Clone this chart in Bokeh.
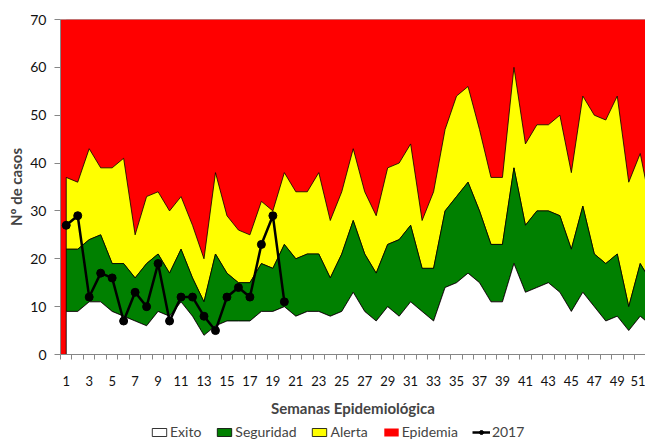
from bokeh.plotting import figure
from bokeh.layouts import column
from bokeh.models import Range1d, FixedTicker, Span, Legend, LegendItem
from bokeh.embed import file_html
from bokeh.resources import INLINE

weeks = list(range(1, 53))
exito = [9, 9, 11, 11, 9, 8, 7, 6, 9, 8,
         11, 8, 4, 6, 7, 7, 7, 9, 9, 10,
         8, 9, 9, 8, 9, 13, 9, 7, 10, 8,
         11, 9, 7, 14, 15, 17, 15, 11, 11, 19,
         13, 14, 15, 13, 9, 13, 10, 7, 8, 5,
         8, 6]
seguridad = [22, 22, 24, 25, 19, 19, 16, 19, 21, 17,
             22, 16, 11, 21, 17, 15, 15, 19, 18, 23,
             20, 21, 21, 16, 21, 28, 21, 17, 23, 24,
             27, 18, 18, 30, 33, 36, 30, 23, 23, 39,
             27, 30, 30, 29, 22, 31, 21, 19, 21, 10,
             19, 15]
alerta = [37, 36, 43, 39, 39, 41, 25, 33, 34, 30,
          33, 27, 20, 38, 29, 26, 25, 32, 30, 38,
          34, 34, 38, 28, 34, 43, 34, 29, 39, 40,
          44, 28, 34, 47, 54, 56, 47, 37, 37, 60,
          44, 48, 48, 50, 38, 54, 50, 49, 54, 36,
          42, 30]
epidemia_top = 70
weeks_2017 = list(range(1, 21))
casos_2017 = [27, 29, 12, 17, 16, 7, 13, 10, 19, 7,
              12, 12, 8, 5, 12, 14, 12, 23, 29, 11]
legend_labels = ["Exito", "Seguridad", "Alerta", "Epidemia", "2017"]

FONT = "Lato"
GRAY = "#868686"
C_EX, C_SEG, C_AL, C_EP = "white", "#008000", "#FFFF00", "#FF0000"


def band(lower, upper):
    xs = weeks + weeks[::-1]
    ys = list(upper) + list(lower)[::-1]
    return xs, ys


zeros = [0] * len(weeks)


def draw(fig):
    r_ep = fig.varea(x=weeks, y1=alerta, y2=[epidemia_top] * len(weeks),
                     fill_color=C_EP)
    xs, ys = band(seguridad, alerta)
    r_al = fig.patch(xs, ys, fill_color=C_AL, line_color="black", line_width=0.8)
    xs, ys = band(exito, seguridad)
    r_seg = fig.patch(xs, ys, fill_color=C_SEG, line_color="black", line_width=0.8)
    xs, ys = band(zeros, exito)
    r_ex = fig.patch(xs, ys, fill_color=C_EX, line_color="black", line_width=0.8)
    r_ln = fig.line(weeks_2017, casos_2017, line_color="black", line_width=2.5)
    r_pt = fig.scatter(weeks_2017, casos_2017, size=8, fill_color="black",
                       line_color="black")
    return [[r_ex], [r_seg], [r_al], [r_ep], [r_ln, r_pt]]


p = figure(frame_width=585, frame_height=335,
           x_range=Range1d(0.5, 51.46), y_range=Range1d(0, 70),
           output_backend="svg", toolbar_location=None,
           min_border_left=60, min_border_right=0, min_border_top=19,
           min_border_bottom=69,
           background_fill_color=C_EP, outline_line_color=None,
           border_fill_color="white")
p.grid.visible = False
draw(p)
p.add_layout(Span(location=70, dimension="width", line_color=GRAY, line_width=1))

# x axis
p.xaxis.ticker = FixedTicker(ticks=list(range(1, 52, 2)),
                             minor_ticks=[w - 0.5 for w in range(1, 54)])
p.xaxis.major_tick_out = 0
p.xaxis.major_tick_in = 0
p.xaxis.minor_tick_out = 5
p.xaxis.minor_tick_in = 0
p.xaxis.minor_tick_line_color = GRAY
p.xaxis.axis_line_color = GRAY
p.xaxis.major_label_standoff = 16
p.xaxis.major_label_text_font = FONT
p.xaxis.major_label_text_font_size = "13px"
p.xaxis.major_label_text_color = "#111111"
p.xaxis.axis_label = "Semanas Epidemiológica"
p.xaxis.axis_label_text_font = FONT
p.xaxis.axis_label_text_font_style = "bold"
p.xaxis.axis_label_text_font_size = "15px"
p.xaxis.axis_label_standoff = 10

# y axis
p.yaxis.ticker = FixedTicker(ticks=list(range(0, 71, 10)), minor_ticks=[])
p.yaxis.major_tick_out = 6
p.yaxis.major_tick_in = 0
p.yaxis.major_tick_line_color = GRAY
p.yaxis.axis_line_color = GRAY
p.yaxis.major_label_standoff = 8
p.yaxis.major_label_text_font = FONT
p.yaxis.major_label_text_font_size = "14px"
p.yaxis.major_label_text_color = "#111111"
p.yaxis.axis_label = "Nº de casos"
p.yaxis.axis_label_text_font = FONT
p.yaxis.axis_label_text_font_style = "bold"
p.yaxis.axis_label_text_font_size = "15px"
p.yaxis.axis_label_standoff = 2

# legend strip: same series drawn in a small figure whose view is empty
lg = figure(width=645, height=17, x_range=Range1d(-3, -2), y_range=Range1d(0, 1),
            output_backend="svg", toolbar_location=None,
            min_border=0, outline_line_color=None, border_fill_color="white",
            background_fill_color="white")
lg.axis.visible = False
lg.grid.visible = False
renderers = draw(lg)
legend = Legend(items=[LegendItem(label=lab, renderers=r)
                       for lab, r in zip(legend_labels, renderers)],
                orientation="horizontal", location=(90, 0),
                label_text_font=FONT, label_text_font_size="14px", label_height=15,
                glyph_width=18, glyph_height=10, label_standoff=2, spacing=14,
                padding=0, margin=0, border_line_color=None,
                background_fill_alpha=0)
lg.add_layout(legend, "center")

layout = column(p, lg, spacing=0)
open("out.html", "w").write(file_html(layout, INLINE))
